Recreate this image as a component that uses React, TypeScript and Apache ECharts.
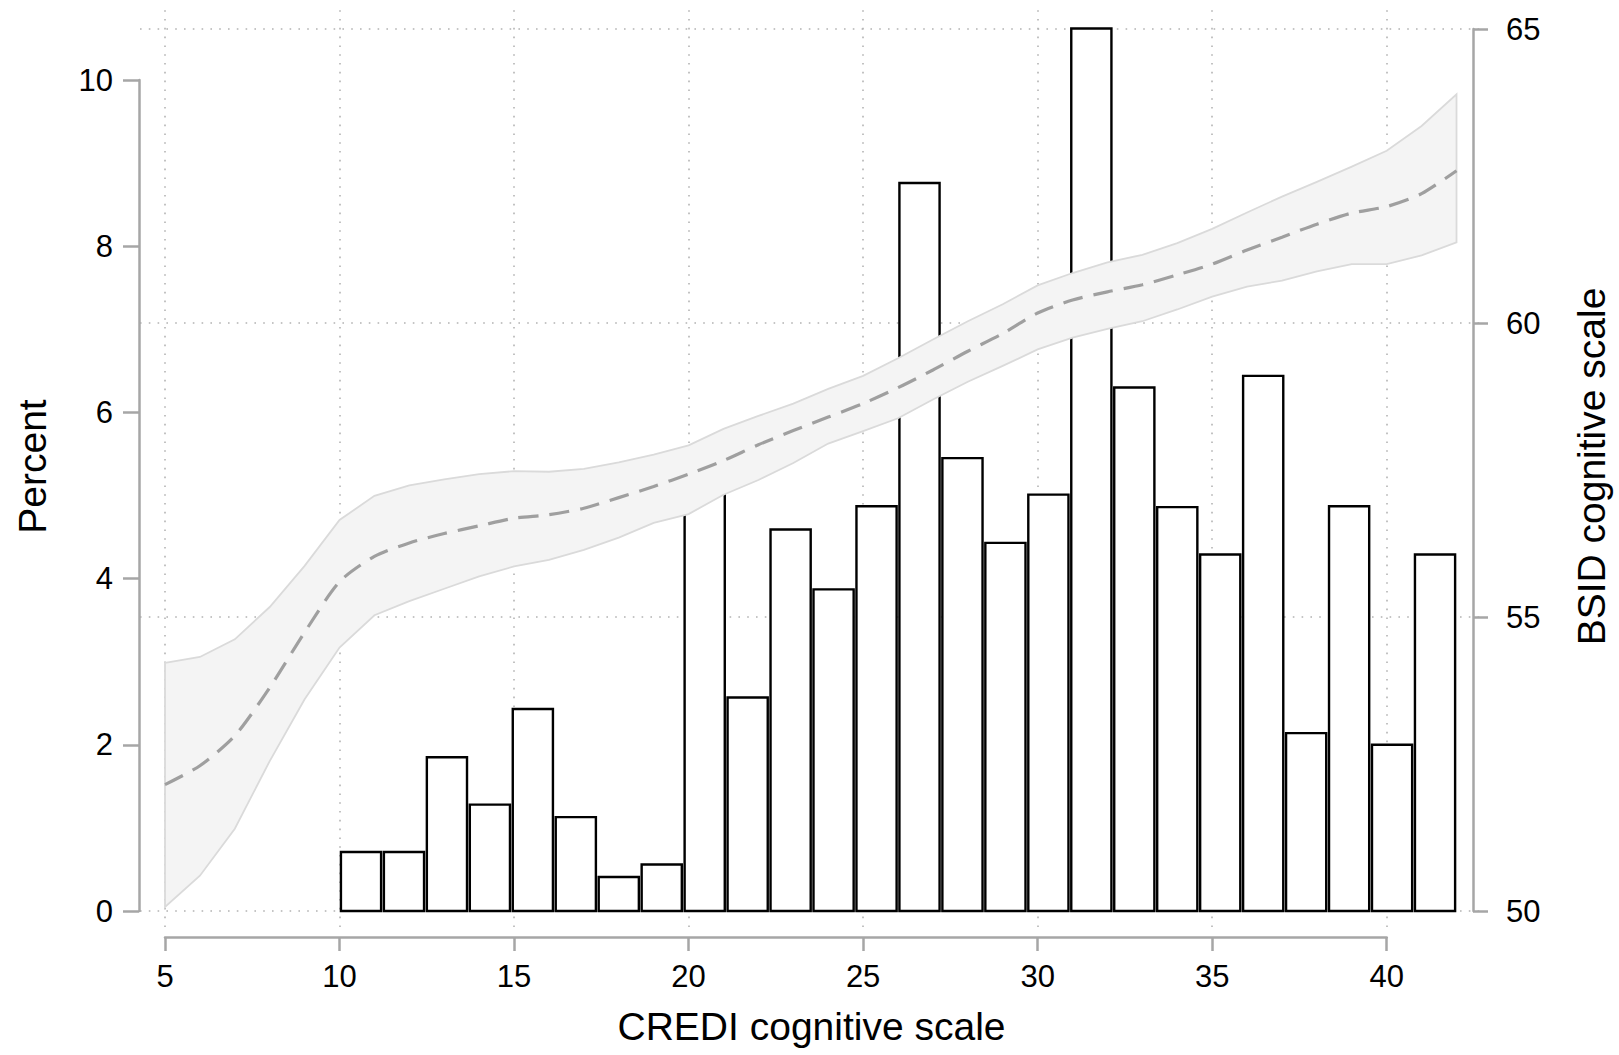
import React, { useEffect, useRef } from "react";
import * as echarts from "echarts";

// ---------------- data ----------------
const binStart = 10;
const binWidth = 32 / 26;
const percent = [
  0.71, 0.71, 1.85, 1.28, 2.43, 1.13, 0.41, 0.56, 5.28, 2.57, 4.59, 3.87, 4.87,
  8.76, 5.45, 4.43, 5.01, 10.62, 6.3, 4.86, 4.29, 6.44, 2.14, 4.87, 2.0, 4.29,
];
const fitX = [
  5, 6, 7, 8, 9, 10, 11, 12, 13, 14, 15, 16, 17, 18, 19, 20, 21, 22, 23, 24, 25,
  26, 27, 28, 29, 30, 31, 32, 33, 34, 35, 36, 37, 38, 39, 40, 41, 42,
];
const fitMid = [
  52.15, 52.47, 52.98, 53.8, 54.74, 55.6, 56.03, 56.26, 56.42, 56.55, 56.68,
  56.74, 56.85, 57.03, 57.22, 57.43, 57.66, 57.93, 58.17, 58.4, 58.63, 58.9,
  59.2, 59.52, 59.82, 60.17, 60.39, 60.53, 60.65, 60.82, 61.0, 61.24, 61.46,
  61.68, 61.87, 61.98, 62.2, 62.59,
];
const fitUpper = [
  54.22, 54.32, 54.62, 55.17, 55.87, 56.65, 57.06, 57.24, 57.34, 57.43, 57.48,
  57.47, 57.52, 57.63, 57.76, 57.92, 58.2, 58.42, 58.63, 58.88, 59.1, 59.4,
  59.72, 60.03, 60.32, 60.64, 60.85, 61.03, 61.16, 61.36, 61.6, 61.88, 62.15,
  62.4, 62.66, 62.93, 63.35, 63.89,
];
const fitLower = [
  50.07, 50.6, 51.4, 52.55, 53.6, 54.48, 55.03, 55.27, 55.48, 55.69, 55.86,
  55.97, 56.14, 56.35, 56.6, 56.75, 57.08, 57.33, 57.62, 57.95, 58.16, 58.38,
  58.7, 59.0, 59.27, 59.55, 59.75, 59.9, 60.03, 60.23, 60.45, 60.62, 60.72,
  60.88, 61.0, 61.0, 61.15, 61.37,
];
const xTicks = [5, 10, 15, 20, 25, 30, 35, 40];
const leftTicks = [0, 2, 4, 6, 8, 10];
const rightTicks = [50, 55, 60, 65];

// ---------------- layout (pixels) ----------------
const W = 1619;
const H = 1055;
const PLOT_L = 140;
const PLOT_R = 1483;
const PLOT_T = 6;
const PLOT_B = 927;
const PX_X_FIRST = 165; // x = 5
const PX_X_LAST = 1386.7; // x = 40
const PX_YL_0 = 911; // left 0
const PX_YL_10 = 80; // left 10
const PX_YR_50 = 911; // right 50
const PX_YR_65 = 29; // right 65
const X_AXIS_Y = 937;
const Y_LEFT_X = 139;
const Y_RIGHT_X = 1483;

const FONT = "'Liberation Sans', Arial, Helvetica, sans-serif";
const AXIS_GRAY = "#a6a6a6";
const GRID_GRAY = "#b3b3b3";

const xFirst = xTicks[0];
const xLast = xTicks[xTicks.length - 1];
const pxPerX = (PX_X_LAST - PX_X_FIRST) / (xLast - xFirst);
const XMIN = xFirst - (PX_X_FIRST - PLOT_L) / pxPerX;
const XMAX = xLast + (PLOT_R - PX_X_LAST) / pxPerX;
const lTop = leftTicks[leftTicks.length - 1];
const pxPerL = (PX_YL_0 - PX_YL_10) / (lTop - leftTicks[0]);
const LMIN = leftTicks[0] - (PLOT_B - PX_YL_0) / pxPerL;
const LMAX = leftTicks[0] + (PX_YL_0 - PLOT_T) / pxPerL;
const rTop = rightTicks[rightTicks.length - 1];
const pxPerR = (PX_YR_50 - PX_YR_65) / (rTop - rightTicks[0]);
const RMIN = rightTicks[0] - (PLOT_B - PX_YR_50) / pxPerR;
const RMAX = rightTicks[0] + (PX_YR_50 - PLOT_T) / pxPerR;

const tickLabel = { color: "#000", fontFamily: FONT, fontSize: 31 };
const nameStyle = { color: "#000", fontFamily: FONT, fontSize: 39 };

function buildOption() {
  const barData = percent.map((p, i) => [
    binStart + i * binWidth,
    binStart + (i + 1) * binWidth,
    p,
  ]);
  const midData = fitX.map((x, i) => [x, fitMid[i]]);

  const hidden = {
    axisLine: { show: false },
    axisTick: { show: false },
    axisLabel: { show: false },
    splitLine: { show: false },
  };

  return {
    animation: false,
    backgroundColor: "#fff",
    grid: [
      // 0: main plot region
      { left: PLOT_L, right: W - PLOT_R, top: PLOT_T, bottom: H - PLOT_B },
      // 1: bottom axis
      { left: PX_X_FIRST, right: W - PX_X_LAST, top: X_AXIS_Y - 20, bottom: H - X_AXIS_Y },
      // 2: left axis
      { left: Y_LEFT_X, width: 10, top: PX_YL_10, bottom: H - PX_YL_0 },
      // 3: right axis
      { right: W - Y_RIGHT_X, width: 10, top: PX_YR_65, bottom: H - PX_YR_50 },
    ],
    xAxis: [
      {
        gridIndex: 0,
        type: "value",
        min: XMIN,
        max: XMAX,
        ...hidden,
        name: "CREDI cognitive scale",
        nameLocation: "middle",
        nameGap: 80,
        nameTextStyle: nameStyle,
      },
      {
        gridIndex: 1,
        type: "value",
        position: "bottom",
        min: xFirst,
        max: xLast,
        interval: 5,
        axisLine: { show: true, lineStyle: { color: AXIS_GRAY, width: 2.5 } },
        axisTick: { show: true, length: 14, lineStyle: { color: AXIS_GRAY, width: 2.5 } },
        axisLabel: { ...tickLabel, margin: 24, showMinLabel: true, showMaxLabel: true },
        splitLine: { show: false },
      },
      { gridIndex: 2, type: "value", show: false },
      { gridIndex: 3, type: "value", show: false },
    ],
    yAxis: [
      {
        gridIndex: 0,
        type: "value",
        position: "left",
        min: LMIN,
        max: LMAX,
        ...hidden,
        name: "Percent",
        nameLocation: "middle",
        nameRotate: 90,
        nameGap: 88,
        nameTextStyle: nameStyle,
      },
      {
        gridIndex: 0,
        type: "value",
        position: "right",
        min: RMIN,
        max: RMAX,
        ...hidden,
        name: "BSID cognitive scale",
        nameLocation: "middle",
        nameRotate: 90,
        nameGap: 89,
        nameTextStyle: nameStyle,
      },
      { gridIndex: 1, type: "value", show: false },
      {
        gridIndex: 2,
        type: "value",
        position: "left",
        min: leftTicks[0],
        max: lTop,
        interval: 2,
        axisLine: { show: true, lineStyle: { color: AXIS_GRAY, width: 2.5 } },
        axisTick: { show: true, length: 16, lineStyle: { color: AXIS_GRAY, width: 2.5 } },
        axisLabel: { ...tickLabel, margin: 26 },
        splitLine: { show: false },
      },
      {
        gridIndex: 3,
        type: "value",
        position: "right",
        min: rightTicks[0],
        max: rTop,
        interval: 5,
        axisLine: { show: true, lineStyle: { color: AXIS_GRAY, width: 2.5 } },
        axisTick: { show: true, length: 15, lineStyle: { color: AXIS_GRAY, width: 2.5 } },
        axisLabel: { ...tickLabel, margin: 23 },
        splitLine: { show: false },
      },
    ],
    series: [
      {
        // dotted grid lines
        type: "line",
        xAxisIndex: 0,
        yAxisIndex: 1,
        z: 0,
        data: [],
        silent: true,
        markLine: {
          z: 0,
          silent: true,
          symbol: "none",
          animation: false,
          label: { show: false },
          lineStyle: { type: [1.6, 7.2], color: GRID_GRAY, width: 1.6 },
          emphasis: { disabled: true },
          data: [
            ...xTicks.map((v) => ({ xAxis: v })),
            ...rightTicks.map((v) => ({ yAxis: v })),
          ],
        },
      },
      {
        // histogram
        type: "custom",
        xAxisIndex: 0,
        yAxisIndex: 0,
        z: 2,
        silent: true,
        data: barData,
        encode: { x: [0, 1], y: 2 },
        renderItem: (params: any, api: any) => {
          const p0 = api.coord([api.value(0), 0]);
          const p1 = api.coord([api.value(1), api.value(2)]);
          const inset = 1.4;
          return {
            type: "rect",
            shape: {
              x: p0[0] + inset,
              y: p1[1],
              width: p1[0] - p0[0] - 2 * inset,
              height: p0[1] - p1[1],
            },
            style: { fill: "#ffffff", stroke: "#000000", lineWidth: 2.4 },
          };
        },
      },
      {
        // confidence band
        type: "custom",
        xAxisIndex: 0,
        yAxisIndex: 1,
        z: 3,
        silent: true,
        data: [[fitX[0], fitMid[0]]],
        renderItem: (params: any, api: any) => {
          const top = fitX.map((x, i) => api.coord([x, fitUpper[i]]));
          const bot = fitX.map((x, i) => api.coord([x, fitLower[i]])).reverse();
          return {
            type: "polygon",
            shape: { points: top.concat(bot) },
            style: { fill: "#f4f4f4", stroke: "#dadada", lineWidth: 1.8 },
          };
        },
      },
      {
        // fitted line
        type: "line",
        xAxisIndex: 0,
        yAxisIndex: 1,
        z: 4,
        silent: true,
        data: midData,
        showSymbol: false,
        smooth: 0.25,
        lineStyle: { color: "#9f9f9f", width: 3.2, type: [20, 11] },
      },
    ],
  };
}

export default function App() {
  const ref = useRef<HTMLDivElement>(null);
  useEffect(() => {
    if (!ref.current) return;
    const chart = echarts.init(ref.current, undefined, { renderer: "svg" });
    chart.setOption(buildOption() as any);
    return () => chart.dispose();
  }, []);
  return (
    <div
      ref={ref}
      style={{ position: "absolute", left: 0, top: 0, width: W, height: H, background: "#fff" }}
    />
  );
}
